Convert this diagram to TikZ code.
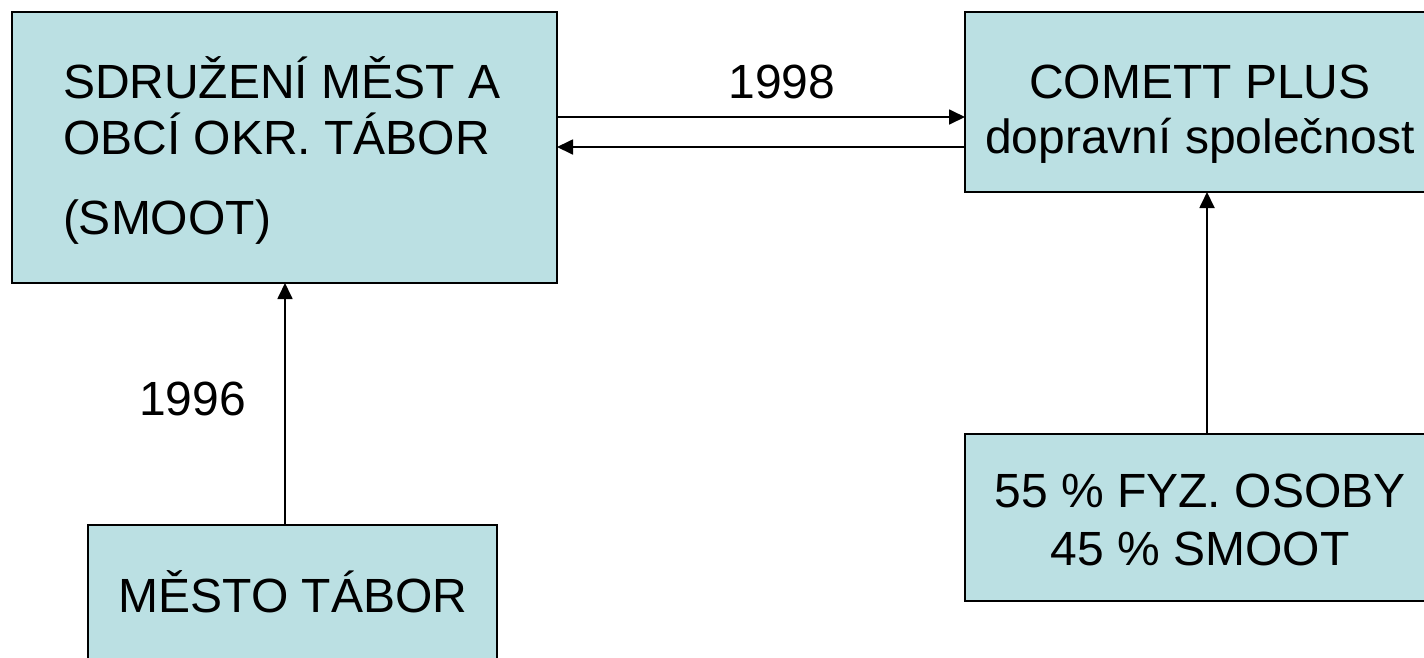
\documentclass[tikz,border=0pt]{standalone}
\usepackage{fontspec}
\setmainfont{Liberation Sans}
\usetikzlibrary{arrows.meta}
\definecolor{boxfill}{HTML}{BBE0E3}
\tikzset{
  box/.style={draw=black, line width=1.8pt, fill=boxfill, inner sep=0pt, outer sep=0pt},
  txt/.style={inner sep=0pt, outer sep=0pt, font=\fontsize{48}{56}\selectfont},
  conn/.style={draw=black, line width=1.8pt, -{Triangle[length=16pt,width=15pt]}}
}
\begin{document}
\begin{tikzpicture}[x=1pt,y=-1pt]
\useasboundingbox (0,0) rectangle (1424,657);
\clip (0,0) rectangle (1424,657);
% boxes
\node[box, minimum width=545pt, minimum height=271pt] (smoot) at (284.5,147.5) {};
\node[box, minimum width=480pt, minimum height=180pt] (comett) at (1205,102) {};
\node[box, minimum width=480pt, minimum height=167pt] (osoby) at (1205,517.5) {};
\node[box, minimum width=409pt, minimum height=200pt] (mesto) at (292.5,625) {};
% texts
\node[txt, anchor=base west] (s1) at (63,98) {SDRUŽENÍ MĚST A};
\node[txt, anchor=base west] (s2) at (63,154) {OBCÍ OKR. TÁBOR};
\node[txt, anchor=base west] (s3) at (63,234) {(SMOOT)};
\node[txt, anchor=base] (c1) at (1200,98) {COMETT PLUS};
\node[txt, anchor=base] (c2) at (1200,153) {dopravní společnost};
\node[txt, anchor=base] (o1) at (1200,507) {55 \% FYZ. OSOBY};
\node[txt, anchor=base] (o2) at (1200,565) {45 \% SMOOT};
\node[txt, anchor=base] (m1) at (293,612) {MĚSTO TÁBOR};
\node[txt, anchor=base] (y98) at (782,98) {1998};
\node[txt, anchor=base] (y96) at (192.5,415) {1996};
% connector levels
\coordinate (ya) at (0,117);
\coordinate (yb) at (0,147);
\coordinate (xl) at (285,0);
\coordinate (xr) at (1207,0);
% connectors
\draw[conn] (smoot.east |- ya) -- (comett.west |- ya);
\draw[conn] (comett.west |- yb) -- (smoot.east |- yb);
\draw[conn] (mesto.north -| xl) -- (smoot.south -| xl);
\draw[conn] (osoby.north -| xr) -- (comett.south -| xr);
\end{tikzpicture}
\end{document}
